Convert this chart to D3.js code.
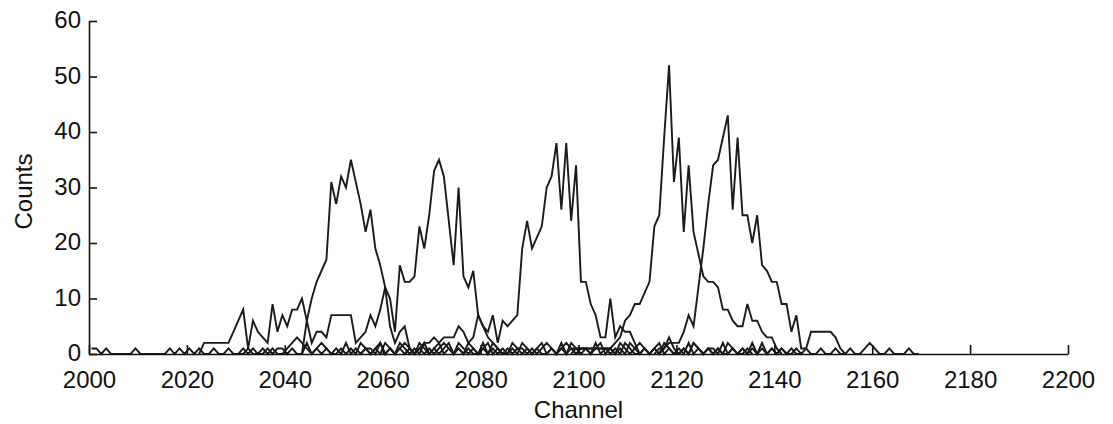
<!DOCTYPE html>
<html>
<head>
<meta charset="utf-8">
<script src="https://cdn.jsdelivr.net/npm/d3@7"></script>
<style>
  html, body { margin: 0; padding: 0; background: #fff; }
  svg { display: block; }
  .axis text { font-family: "Liberation Sans", Arial, sans-serif; font-size: 24px; fill: #111; }
  .axis path, .axis line { stroke: #111; stroke-width: 1.6; }
  .title { font-family: "Liberation Sans", Arial, sans-serif; font-size: 24px; fill: #111; }
</style>
</head>
<body>
<svg id="chart" width="1113" height="424"></svg>
<script>
// Axis ranges and tick labels
const channelTicks = [2000, 2020, 2040, 2060, 2080, 2100, 2120, 2140, 2160, 2180, 2200];
const countTicks = [0, 10, 20, 30, 40, 50, 60];

// Spectra: counts per channel, each list begins at its start channel
const peak1Start = 2043;
const peak1Counts = [0, 6, 10, 13, 15, 17, 31, 27, 32, 30, 35, 31, 27, 22, 26, 19, 16, 12, 5, 2, 4, 5, 1, 0];

const peak2Start = 2022;
const peak2Counts = [0, 2, 2, 2, 2, 2, 2, 4, 6, 8, 1, 6, 4, 3, 2, 9, 4, 7, 5, 8,
                     8, 10, 6, 2, 4, 4, 3, 7, 7, 7, 7, 7, 2, 3, 4, 7, 5, 8, 12, 10,
                     4, 16, 13, 13, 14, 23, 19, 25, 33, 35, 32, 24, 16, 30, 14, 12, 15, 7, 5, 3,
                     2, 1, 0];

const peak3Start = 2064;
const peak3Counts = [0, 1, 0, 1, 2, 2, 3, 2, 3, 3, 3, 5, 4, 2, 3, 7, 5, 4, 7, 2,
                     6, 5, 6, 7, 19, 24, 19, 21, 23, 30, 32, 38, 26, 38, 24, 34, 13, 13, 9, 7,
                     3, 3, 10, 3, 5, 4, 4, 2, 0];

const peak4Start = 2098;
const peak4Counts = [0, 1, 1, 1, 1, 1, 1, 1, 1, 2, 3, 6, 7, 9, 9, 11, 13, 23, 25, 39,
                     52, 31, 39, 22, 34, 22, 18, 14, 13, 13, 12, 8, 8, 6, 5, 5, 9, 6, 6, 4,
                     3, 3, 1, 0];

const peak5Start = 2115;
const peak5Counts = [0, 1, 1, 2, 2, 2, 4, 7, 5, 12, 19, 27, 34, 35, 39, 43, 26, 39, 25, 25,
                     20, 25, 16, 15, 13, 13, 9, 9, 4, 7, 1, 1, 4, 4, 4, 4, 4, 3, 1, 0];

// Low background channels
const bgAStart = 2000;
const bgACounts = [1, 1, 0, 1, 0, 0, 0, 0, 0, 1, 0, 0, 0, 0, 0, 0, 1, 0, 1, 0,
                   1, 0, 1, 0, 0, 1, 0, 0, 1, 0, 0, 1, 0, 1, 0, 0, 1, 0, 1, 1,
                   0, 1, 0, 0, 2, 0, 1, 0, 1, 0, 1, 0, 2, 0, 1, 0, 1, 1, 0, 2,
                   0, 1, 0, 2, 1, 0, 1, 0, 2, 0, 1, 2, 0, 1, 0, 2, 1, 0, 1, 0,
                   2, 0, 1, 0, 1, 0, 2, 1, 0, 1, 0, 1, 2, 0, 1, 0, 1, 0, 2, 1,
                   0, 1, 0, 1, 2, 0, 1, 0, 1, 0, 2, 1, 0, 1, 0, 1, 0, 2, 1, 0,
                   1, 0, 2, 0, 1, 0, 1, 1, 0, 2, 0, 1, 0, 1, 0, 2, 0, 1, 0, 1,
                   0, 1, 0, 0, 1, 0, 1, 0, 0, 1, 0, 0, 1, 0, 0, 1, 0, 0, 1, 2,
                   1, 0, 0, 1, 0, 0, 0, 1, 0, 0];

const bgBStart = 2030;
const bgBCounts = [0, 0, 1, 0, 0, 1, 0, 1, 0, 0, 1, 2, 3, 2, 1, 0, 1, 2, 1, 0,
                   0, 1, 0, 1, 0, 2, 1, 0, 1, 0, 2, 1, 0, 1, 2, 1, 0, 1, 0, 1,
                   0, 1, 2, 1, 0, 1, 0, 2, 1, 0, 1, 0, 2, 1, 0, 1, 0, 1, 1, 0,
                   1, 0, 1, 2, 1, 0, 1, 2, 1, 1, 1, 1, 1, 1, 1, 1, 1, 0, 2, 1,
                   0, 1, 2, 1, 0, 1, 0, 1, 3, 1, 0, 1, 0, 2, 1, 0, 1, 0, 1, 0,
                   2, 1, 0, 1, 0, 1, 0, 2, 0, 1, 0, 1, 0, 1, 0, 0];

const bgCStart = 2055;
const bgCCounts = [0, 1, 0, 1, 2, 0, 1, 0, 1, 0, 1, 0, 2, 1, 0, 1, 0, 1, 2, 0,
                   1, 0, 1, 0, 0, 1, 2, 0, 1, 0, 0, 1, 0, 2, 1, 0, 1, 0, 0, 1,
                   0, 2, 0, 1, 0, 1, 1, 0, 2, 0, 1, 0, 1, 0, 2, 1, 0, 0, 1, 0,
                   1, 2, 0, 1, 0, 0, 1, 0, 2, 1, 0, 1, 0, 1, 0, 0, 1, 0, 0, 1, 0];

const spectra = [
  [bgAStart, bgACounts], [bgBStart, bgBCounts], [bgCStart, bgCCounts],
  [peak1Start, peak1Counts], [peak2Start, peak2Counts], [peak3Start, peak3Counts],
  [peak4Start, peak4Counts], [peak5Start, peak5Counts]
].map(([start, counts]) => counts.map((v, i) => ({ channel: start + i, count: v })));

const svg = d3.select("#chart");
const plotLeft = 89, plotRight = 1068, plotTop = 21, plotBottom = 354;

const x = d3.scaleLinear().domain([2000, 2200]).range([plotLeft, plotRight]);
const y = d3.scaleLinear().domain([0, 60]).range([plotBottom, plotTop]);

// channel values sit at bin centres
const line = d3.line()
  .x(d => x(d.channel + 0.5))
  .y(d => y(d.count));

svg.append("g")
  .selectAll("path")
  .data(spectra)
  .join("path")
  .attr("d", line)
  .attr("fill", "none")
  .attr("stroke", "#1a1a1a")
  .attr("stroke-width", 1.9)
  .attr("stroke-linejoin", "miter");

svg.append("g")
  .attr("class", "axis")
  .attr("transform", `translate(0,${plotBottom})`)
  .call(d3.axisBottom(x).tickValues(channelTicks).tickFormat(d3.format("d"))
    .tickSizeInner(-9).tickSizeOuter(0).tickPadding(17));

const yAxis = svg.append("g")
  .attr("class", "axis")
  .attr("transform", `translate(${plotLeft},0)`)
  .call(d3.axisLeft(y).tickValues(countTicks).tickFormat(d3.format("d"))
    .tickSizeInner(-8).tickSizeOuter(0).tickPadding(8));
yAxis.selectAll("text").attr("dy", "0.28em");

svg.append("text")
  .attr("class", "title")
  .attr("x", (plotLeft + plotRight) / 2)
  .attr("y", 418)
  .attr("text-anchor", "middle")
  .text("Channel");

svg.append("text")
  .attr("class", "title")
  .attr("transform", `translate(32,${(plotTop + plotBottom) / 2 + 4}) rotate(-90)`)
  .attr("text-anchor", "middle")
  .text("Counts");
</script>
</body>
</html>
